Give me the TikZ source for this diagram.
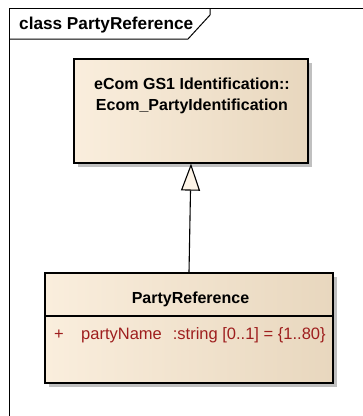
\documentclass[tikz,border=0pt]{standalone}
\usepackage{fontspec}
\setmainfont{Liberation Sans}
\usetikzlibrary{arrows.meta, positioning, shadows}
\definecolor{cbeigeL}{RGB}{250,238,221}
\definecolor{cbeigeM}{RGB}{253,244,231}
\definecolor{cbeigeR}{RGB}{232,215,190}
\definecolor{cattr}  {RGB}{158,30,30}
\definecolor{cshadow}{RGB}{192,192,192}
\tikzset{
  cls/.style={rectangle, draw=black, line width=1.2pt,
              left color=cbeigeL, middle color=cbeigeM, right color=cbeigeR,
              drop shadow={shadow xshift=4pt, shadow yshift=-4pt,
                           fill=cshadow, opacity=1},
              inner sep=0pt},
  clsname/.style={font=\fontsize{16}{21.5}\selectfont\bfseries, align=center, inner sep=0pt},
  attr/.style={font=\fontsize{16.5}{19}\selectfont, text=cattr, inner sep=0pt, anchor=base west},
  gen/.style={-{Triangle[open, length=27pt, width=19pt, fill=cbeigeM]}, line width=1.1pt},
  frm/.style={draw=black, line width=1pt},
}
\begin{document}
\begin{tikzpicture}[x=1pt, y=-1pt]
  \useasboundingbox (0,0) rectangle (363,416);

  % -- diagram frame ---------------------------------------------------------
  \draw[frm] (9,416) -- (9,8) -- (363,8);
  \draw[frm] (9,39) -- (188,39) -- (210,15) -- (210,8);
  \node[font=\fontsize{17.2}{20}\selectfont\bfseries, anchor=base west, inner sep=0pt]
    at (19,29.5) (title) {class PartyReference};

  % -- classes ---------------------------------------------------------------
  \node[cls, minimum width=234pt, minimum height=104pt] at (191,111) (pid) {};
  \node[clsname] at (192,96) (pidname) {eCom GS1 Identification::\\Ecom\_PartyIdentification};

  \node[cls, minimum width=288pt, minimum height=110pt] at (189,328) (pr) {};
  \node[clsname, anchor=base] at (190.5,303) (prname) {PartyReference};
  \draw[line width=1.2pt] (pr.west |- 0,316) coordinate (sepL) -- (pr.east |- 0,316) coordinate (sepR);
  \node[attr] at (54,339) (plus) {+};
  \node[attr] at (81,339) (pname) {partyName\hspace{11pt}:string [0..1] = \{1..80\}};

  % -- generalization --------------------------------------------------------
  \draw[gen] (pr.north) -- (pid.south);
\end{tikzpicture}
\end{document}
